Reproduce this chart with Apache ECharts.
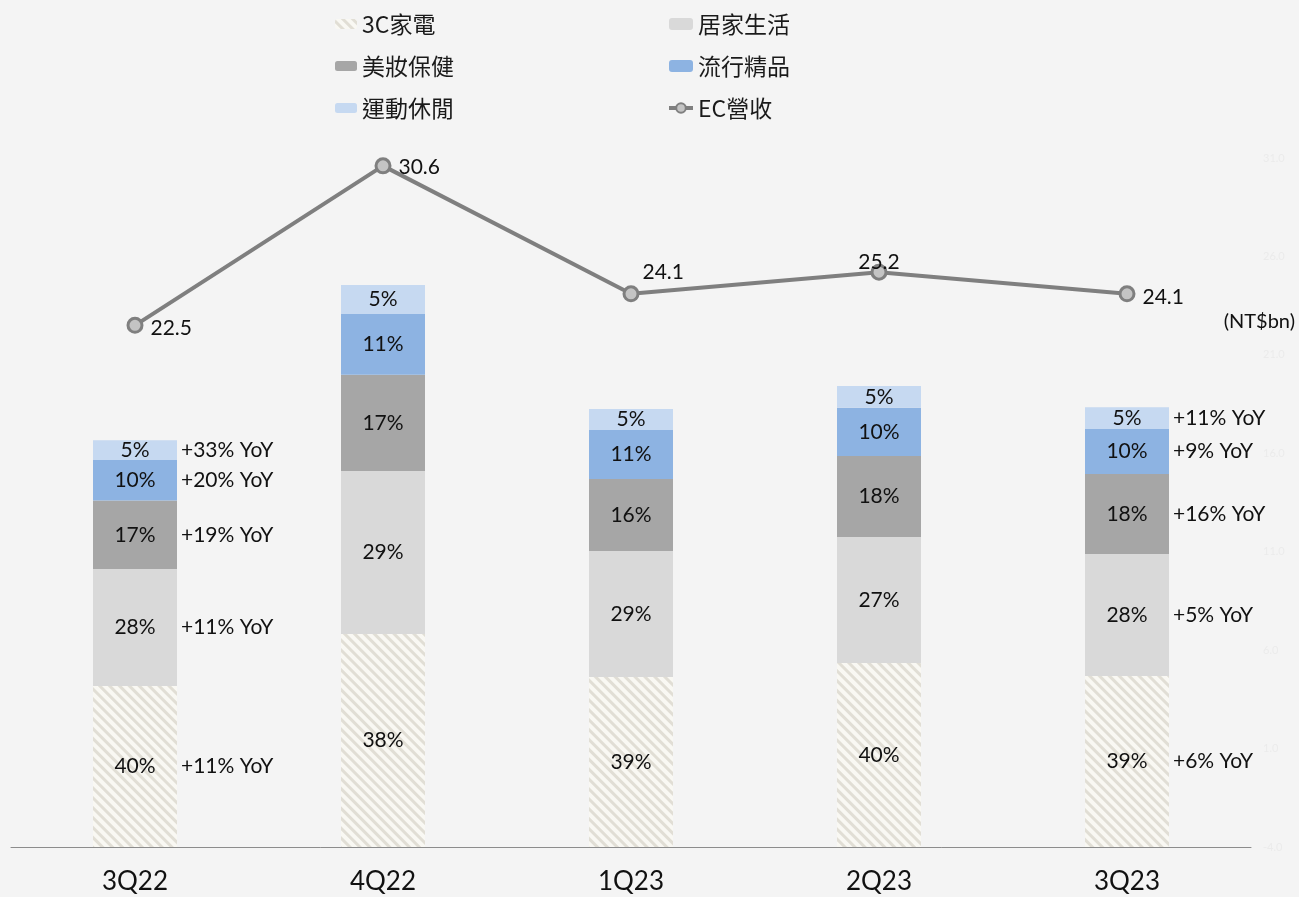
<!DOCTYPE html>
<html>
<head>
<meta charset="utf-8">
<script src="https://cdn.jsdelivr.net/npm/echarts@6/dist/echarts.min.js"></script>
<style>
  html, body { margin: 0; padding: 0; background: #f4f4f4; }
  #chart { width: 1299px; height: 897px; }
</style>
</head>
<body>
<div id="chart"></div>
<script>
const myChart = echarts.init(document.getElementById('chart'));

// quarters on the x axis
const quarters = ['3Q22', '4Q22', '1Q23', '2Q23', '3Q23'];

// segment sizes (NT$bn)
const c3Values = [8.88, 11.75, 9.38, 10.15, 9.43];
const homeValues = [6.45, 8.99, 6.95, 6.95, 6.73];
const beautyValues = [3.78, 5.30, 3.97, 4.47, 4.41];
const fashionValues = [2.23, 3.36, 2.70, 2.65, 2.48];
const sportsValues = [1.10, 1.60, 1.16, 1.21, 1.21];

// share labels printed inside the bars
const c3Pct = ['40%', '38%', '39%', '40%', '39%'];
const homePct = ['28%', '29%', '29%', '27%', '28%'];
const beautyPct = ['17%', '17%', '16%', '18%', '18%'];
const fashionPct = ['10%', '11%', '11%', '10%', '10%'];
const sportsPct = ['5%', '5%', '5%', '5%', '5%'];

// YoY notes next to the first and last bar
const c3Yoy = ['+11% YoY', '', '', '', '+6% YoY'];
const homeYoy = ['+11% YoY', '', '', '', '+5% YoY'];
const beautyYoy = ['+19% YoY', '', '', '', '+16% YoY'];
const fashionYoy = ['+20% YoY', '', '', '', '+9% YoY'];
const sportsYoy = ['+33% YoY', '', '', '', '+11% YoY'];

// EC revenue line
const revenue = [22.5, 30.6, 24.1, 25.2, 24.1];

const latin = 'Lato, "Noto Sans", sans-serif';
const cjk = '"Noto Sans CJK TC", "Noto Sans CJK SC", sans-serif';
const barW = 84;

function barSeries(name, values, pct, yoy, color, extra) {
  return Object.assign({
    name: name,
    type: 'bar',
    stack: 'ec',
    barWidth: barW,
    data: values,
    itemStyle: { color: color },
    label: {
      show: true,
      position: 'insideLeft',
      distance: 0,
      formatter: (p) => '{p|' + pct[p.dataIndex] + '}' +
        (yoy[p.dataIndex] ? '{y|' + yoy[p.dataIndex] + '}' : ''),
      rich: {
        p: { width: barW, align: 'center', fontSize: 21, fontFamily: latin, color: '#111' },
        y: { fontSize: 21, fontFamily: latin, color: '#111', padding: [0, 0, 0, 4] }
      }
    },
    emphasis: { disabled: true }
  }, extra || {});
}

// per point label placement of the revenue line
const revLabels = [
  { position: 'right', offset: [2, 3] },
  { position: 'right', offset: [2, 1] },
  { position: 'right', offset: [-2, -22] },
  { position: 'top', offset: [0, 14] },
  { position: 'right', offset: [2, 3] }
];

const legendText = { fontFamily: cjk, fontSize: 23, color: '#1a1a1a', lineHeight: 24 };

const option = {
  backgroundColor: '#f4f4f4',
  animation: false,
  grid: { left: 11, right: 48, top: 158, bottom: 50 },
  legend: [
    {
      orient: 'vertical', left: 330, top: 7,
      itemWidth: 22, itemHeight: 10, itemGap: 18,
      textStyle: legendText,
      data: ['3C家電', '美妝保健', '運動休閒']
    },
    {
      orient: 'vertical', left: 662, top: 7,
      itemWidth: 24, itemHeight: 12, itemGap: 18,
      textStyle: legendText,
      data: ['居家生活', '流行精品', { name: 'EC營收', lineStyle: { width: 4 } }]
    }
  ],
  xAxis: {
    type: 'category',
    data: quarters,
    axisLine: { lineStyle: { color: '#8c8c8c', width: 1 } },
    axisTick: { show: false },
    axisLabel: { fontFamily: latin, fontSize: 26, color: '#111', margin: 22 }
  },
  yAxis: [
    { type: 'value', min: 0, max: 38, show: false },
    {
      type: 'value', min: -4, max: 31, interval: 5, position: 'right',
      splitLine: { show: false }, axisLine: { show: false }, axisTick: { show: false },
      axisLabel: { color: '#ebebeb', fontSize: 11, fontFamily: latin, margin: 12, formatter: (v) => v.toFixed(1) }
    }
  ],
  graphic: [
    { type: 'text', right: 4, top: 312, style: { text: '(NT$bn)', fontFamily: latin, fontSize: 20, fill: '#111' } }
  ],
  series: [
    barSeries('3C家電', c3Values, c3Pct, c3Yoy, '#f9f8f3', {
      itemStyle: {
        color: '#f9f8f3',
        decal: {
          symbol: 'rect', symbolSize: 1,
          dashArrayX: [[1, 0]], dashArrayY: [3, 4],
          rotation: Math.PI / 4,
          color: 'rgba(195,190,178,0.45)'
        }
      }
    }),
    barSeries('居家生活', homeValues, homePct, homeYoy, '#d9d9d9'),
    barSeries('美妝保健', beautyValues, beautyPct, beautyYoy, '#a6a6a6'),
    barSeries('流行精品', fashionValues, fashionPct, fashionYoy, '#8db3e2'),
    barSeries('運動休閒', sportsValues, sportsPct, sportsYoy, '#c6d9f1'),
    {
      name: 'EC營收',
      type: 'line',
      yAxisIndex: 1,
      data: revenue.map((v, i) => ({ value: v, label: revLabels[i] })),
      symbol: 'circle',
      symbolSize: 14,
      lineStyle: { color: '#7f7f7f', width: 4 },
      itemStyle: { color: '#c4c4c4', borderColor: '#7f7f7f', borderWidth: 3 },
      label: { show: true, fontFamily: latin, fontSize: 21, color: '#111', formatter: (p) => p.value.toFixed(1) },
      emphasis: { disabled: true },
      z: 5
    }
  ]
};
myChart.setOption(option);
</script>
</body>
</html>
